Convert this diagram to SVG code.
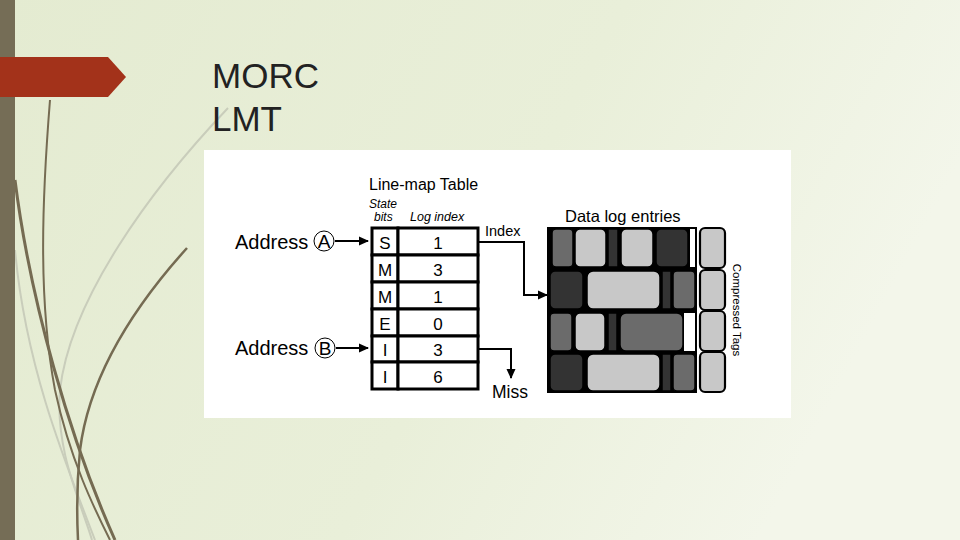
<svg xmlns="http://www.w3.org/2000/svg" width="960" height="540" viewBox="0 0 960 540">
<defs>
<linearGradient id="bg" x1="0" y1="0" x2="1" y2="0.3">
<stop offset="0" stop-color="#e4ebd1"/>
<stop offset="0.6" stop-color="#e9efd9"/>
<stop offset="1" stop-color="#f3f6ea"/>
</linearGradient>
<marker id="ah" viewBox="0 0 10 10" refX="9" refY="5" markerWidth="6" markerHeight="5" orient="auto" markerUnits="strokeWidth">
<path d="M0,0.5 L10,5 L0,9.5 Z" fill="#000"/>
</marker>
<style>
.t{font-family:"Liberation Sans",Arial,sans-serif;fill:#000}
.cell{fill:#fff;stroke:#000;stroke-width:3}
.lt{fill:#c8c8c8;stroke:#000;stroke-width:1.5}
.md{fill:#6b6b6b;stroke:#000;stroke-width:1.5}
.dk{fill:#333;stroke:#000;stroke-width:1.5}
.tag{fill:#c8c8c8;stroke:#000;stroke-width:2.2}
.conn{fill:none;stroke:#000;stroke-width:2}
.deco{fill:none;stroke:#756b52}
.decol{fill:none;stroke:#c9cdbb}
</style>
</defs>
<rect width="960" height="540" fill="url(#bg)"/>
<g id="decor">
<path class="decol" stroke-width="2" d="M228,108 C150,190 70,300 60,390 C55,450 80,500 92,540"/>
<path class="decol" stroke-width="2" d="M15,250 C25,360 60,450 95,540"/>
<path class="deco" stroke-width="2" d="M50,100 C42,200 38,300 55,390 C70,460 95,510 110,540"/>
<path class="deco" stroke-width="3" d="M15,180 C30,300 70,440 115,540"/>
<path class="deco" stroke-width="2.5" d="M187,248 C140,300 90,370 80,450 C76,490 77,520 78,540"/>
<rect x="0" y="0" width="15" height="540" fill="#756d56"/>
<polygon points="0,57 108,57 126,77 108,97 0,97" fill="#a3321a"/>
</g>
<g id="title">
<text class="t" x="212" y="88" font-size="35" style="fill:#222">MORC</text>
<text class="t" x="212" y="131" font-size="35" style="fill:#222">LMT</text>
</g>
<rect x="204" y="150" width="587" height="268" fill="#fff"/>
<g id="labels">
<text class="t" x="369" y="190" font-size="16">Line-map Table</text>
<text class="t" x="369" y="208" font-size="12" font-style="italic">State</text>
<text class="t" x="374" y="221" font-size="12" font-style="italic">bits</text>
<text class="t" x="410" y="221" font-size="12.5" font-style="italic">Log index</text>
<text class="t" x="565" y="222" font-size="16.5">Data log entries</text>
<text class="t" x="733" y="310" font-size="11.5" text-anchor="middle" transform="rotate(90 733 310)">Compressed  Tags</text>
</g>
<g id="addrA">
<text class="t" x="235" y="249" font-size="20">Address</text>
<circle cx="324" cy="241" r="10" fill="none" stroke="#000" stroke-width="1"/>
<text class="t" x="324" y="248" font-size="19" text-anchor="middle">A</text>
</g>
<g id="addrB">
<text class="t" x="235" y="355" font-size="20">Address</text>
<circle cx="325" cy="348" r="10" fill="none" stroke="#000" stroke-width="1"/>
<text class="t" x="325" y="355" font-size="19" text-anchor="middle">B</text>
</g>
<g id="table">
<rect class="cell" x="372" y="228" width="26" height="27"/><rect class="cell" x="398" y="228" width="80" height="27"/>
<rect class="cell" x="372" y="255" width="26" height="27"/><rect class="cell" x="398" y="255" width="80" height="27"/>
<rect class="cell" x="372" y="282" width="26" height="27"/><rect class="cell" x="398" y="282" width="80" height="27"/>
<rect class="cell" x="372" y="309" width="26" height="27"/><rect class="cell" x="398" y="309" width="80" height="27"/>
<rect class="cell" x="372" y="336" width="26" height="26"/><rect class="cell" x="398" y="336" width="80" height="26"/>
<rect class="cell" x="372" y="362" width="26" height="27"/><rect class="cell" x="398" y="362" width="80" height="27"/>
<g class="t" font-size="17" text-anchor="middle">
<text x="385" y="249">S</text><text x="438" y="249">1</text>
<text x="385" y="276">M</text><text x="438" y="276">3</text>
<text x="385" y="303">M</text><text x="438" y="303">1</text>
<text x="385" y="330">E</text><text x="438" y="330">0</text>
<text x="385" y="356">I</text><text x="438" y="356">3</text>
<text x="385" y="383">I</text><text x="438" y="383">6</text>
</g>
</g>
<g id="datalog">
<rect x="547" y="227" width="150" height="166" fill="#000"/>
<rect x="690" y="229" width="5" height="38" fill="#fff"/>
<rect x="684" y="313" width="11" height="38" fill="#fff"/>
<rect class="md" x="552" y="229" width="21" height="38" rx="4"/>
<rect class="lt" x="575" y="229" width="31" height="38" rx="5"/>
<rect class="dk" x="608" y="229" width="10" height="38"/>
<rect class="lt" x="621" y="229" width="32" height="38" rx="5"/>
<rect class="dk" x="656" y="229" width="32" height="38" rx="5"/>
<rect class="dk" x="550" y="271" width="33" height="38" rx="5"/>
<rect class="lt" x="587" y="271" width="73" height="38" rx="6"/>
<rect class="dk" x="662" y="271" width="9" height="38"/>
<rect class="md" x="673" y="271" width="22" height="38" rx="4"/>
<rect class="md" x="550" y="313" width="22" height="38" rx="4"/>
<rect class="lt" x="575" y="313" width="30" height="38" rx="5"/>
<rect class="dk" x="608" y="313" width="9" height="38"/>
<rect class="md" x="620" y="313" width="63" height="38" rx="6"/>
<rect class="dk" x="550" y="354" width="33" height="37" rx="5"/>
<rect class="lt" x="587" y="354" width="73" height="37" rx="6"/>
<rect class="dk" x="662" y="354" width="9" height="37"/>
<rect class="md" x="673" y="354" width="22" height="37" rx="4"/>
</g>
<g id="tags">
<rect class="tag" x="700" y="228" width="25" height="40" rx="5"/>
<rect class="tag" x="700" y="270" width="25" height="40" rx="5"/>
<rect class="tag" x="700" y="311" width="25" height="40" rx="5"/>
<rect class="tag" x="700" y="352" width="25" height="40" rx="5"/>
</g>
<g id="connectors">
<line class="conn" x1="335" y1="241" x2="368" y2="241" marker-end="url(#ah)"/>
<line class="conn" x1="336" y1="348" x2="368" y2="348" marker-end="url(#ah)"/>
<path class="conn" d="M479,242 H524 V295 H547" marker-end="url(#ah)"/>
<path class="conn" d="M479,349 H511 V378" marker-end="url(#ah)"/>
<text class="t" x="485" y="236" font-size="14.5">Index</text>
<text class="t" x="492" y="398" font-size="17.5">Miss</text>
</g>
</svg>
